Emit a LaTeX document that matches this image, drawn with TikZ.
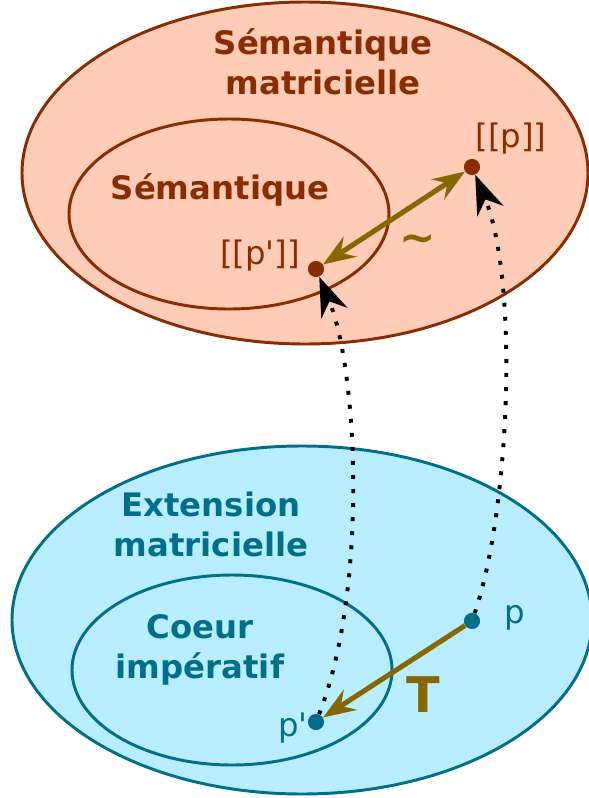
\documentclass[tikz,border=0pt]{standalone}
\usepackage{fontspec}
\setmainfont{DejaVu Sans}
\usetikzlibrary{arrows.meta}

\definecolor{semline}{HTML}{892D00}
\definecolor{semfill}{HTML}{FFCCB8}
\definecolor{extline}{HTML}{006F8A}
\definecolor{extfill}{HTML}{B8EEFF}
\definecolor{olive}{HTML}{866800}

\begin{document}
\begin{tikzpicture}[x=0.025cm, y=-0.025cm,
    title/.style={font=\fontsize{23}{28.5}\selectfont\bfseries, align=center},
    label/.style={font=\fontsize{23}{28.5}\selectfont},
    dot/.style={circle, inner sep=0pt, minimum size=11.5pt},
    trans/.style={olive, line width=3.6pt,
        -{Stealth[length=23pt, width=17pt, inset=8pt]}},
    interp/.style={black, line width=2.8pt, dash pattern=on 2.8pt off 7.2pt,
        -{Stealth[length=28pt, width=20pt, inset=9pt]}}]
   \useasboundingbox (0,0) rectangle (589,798);
   \clip (0,0) rectangle (589,798);

   % Top: semantics
   \begin{scope}
       % Draw ellipses
       \filldraw[fill=semfill, draw=semline, line width=2.1pt] (305,173) ellipse (283 and 171);
       \draw[semline, line width=2.1pt] (229,214) ellipse (160 and 95);

       \node[title, text=semline] (semmat) at (323,62) {Sémantique\\matricielle};
       \node[title, text=semline] (sem) at (220,190) {Sémantique};

       % Draw points
       \node[dot, fill=semline] (sp) at (472,167) {};
       \node[dot, fill=semline] (spprime) at (316,269) {};
       \node[label, text=semline] (splab) at (511,139) {[[p]]};
       \node[label, text=semline] (spprimelab) at (260,256) {[[p\textquotesingle]]};
   \end{scope}

   % Bottom: extension
   \begin{scope}
       % Draw ellipses
       \filldraw[fill=extfill, draw=extline, line width=2.1pt] (302,620) ellipse (290 and 174);
       \draw[extline, line width=2.1pt] (232,670) ellipse (160 and 95);

       \node[title, text=extline] (extmat) at (211,524) {Extension\\matricielle};
       \node[title, text=extline] (coeur) at (200,650) {Coeur\\impératif};

       % Draw points
       \node[dot, fill=extline] (p) at (472,621) {};
       \node[dot, fill=extline] (pprime) at (316,722) {};
       \node[label, text=extline] (plab) at (515,618) {p};
       \node[label, text=extline] (pprimelab) at (293,728) {p\textquotesingle};
   \end{scope}

   % Draw transformations
   \draw[trans, {Stealth[length=23pt, width=17pt, inset=8pt]}-{Stealth[length=23pt, width=17pt, inset=8pt]}] (spprime) -- (sp);
   \node[font=\fontsize{31}{31}\selectfont\bfseries, text=olive] (equiv) at (418,243) {\textasciitilde};
   \draw[trans] (p) -- (pprime);
   \node[font=\fontsize{35}{35}\selectfont\bfseries, text=olive] (tlab) at (423,695) {T};

   % Draw interpretations
   \draw[interp] (pprime) .. controls (368,590) and (358,370) .. (spprime);
   \draw[interp] (p) .. controls (510,510) and (519,280) .. (sp);
\end{tikzpicture}
\end{document}
